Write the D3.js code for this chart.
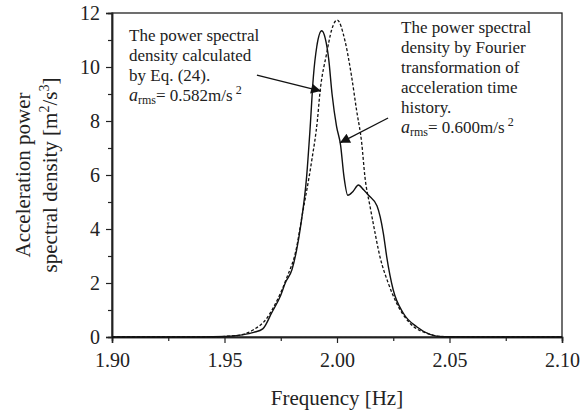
<!DOCTYPE html>
<html>
<head>
<meta charset="utf-8">
<script src="https://cdn.jsdelivr.net/npm/d3@7"></script>
<style>
  body { margin: 0; background: #fff; }
  text { font-family: "Liberation Serif", "Times New Roman", "DejaVu Serif", serif; fill: #222; }
</style>
</head>
<body>
<svg id="chart" width="581" height="415"></svg>
<script>
// 데이터: frequency [Hz] / PSD [m^2/s^3]
const freqCalc = [1.90, 1.93, 1.95, 1.958, 1.963, 1.967, 1.971, 1.975, 1.977, 1.980, 1.982, 1.984, 1.9865, 1.988, 1.9895, 1.991, 1.9932, 1.9948, 1.9963, 1.9978, 1.9998, 2.0016, 2.0031, 2.0048, 2.0072, 2.0095, 2.0118, 2.0139, 2.0178, 2.0206, 2.0221, 2.025, 2.0295, 2.0354, 2.0413, 2.047, 2.06, 2.10];
const psdCalc  = [0, 0, 0.02, 0.08, 0.17, 0.30, 0.9, 1.55, 2.0, 2.5, 3.2, 4.2, 5.94, 7.67, 9.64, 10.75, 11.34, 11.05, 10.3, 9.0, 7.8, 7.1, 5.94, 5.25, 5.4, 5.63, 5.45, 5.26, 4.85, 3.84, 2.97, 1.74, 0.88, 0.38, 0.1, 0.01, 0, 0];

const freqFft = [1.90, 1.94, 1.955, 1.9627, 1.9688, 1.9716, 1.9776, 1.982, 1.9843, 1.9888, 1.9913, 1.9924, 1.9954, 1.9976, 2.0001, 2.0036, 2.0065, 2.0087, 2.011, 2.0124, 2.0147, 2.0161, 2.0191, 2.0228, 2.0265, 2.0324, 2.0399, 2.046, 2.06, 2.10];
const psdFft  = [0, 0, 0.05, 0.26, 0.69, 1.07, 2.18, 3.3, 4.4, 6.55, 8.04, 9.03, 10.5, 11.37, 11.74, 10.95, 9.64, 8.4, 7.17, 5.94, 4.83, 4.21, 2.97, 1.99, 1.25, 0.51, 0.14, 0.02, 0, 0];

const xTicks = [1.90, 1.95, 2.00, 2.05, 2.10];
const yTicks = [0, 2, 4, 6, 8, 10, 12];

const svg = d3.select("#chart");
const margin = {left: 112, top: 13, right: 19, bottom: 78};
const width = 581 - margin.left - margin.right;
const height = 415 - margin.top - margin.bottom;

const xScale = d3.scaleLinear().domain([1.90, 2.10]).range([0, width]);
const yScale = d3.scaleLinear().domain([0, 12]).range([height, 0]);

const g = svg.append("g").attr("transform", `translate(${margin.left},${margin.top})`);

// 프레임
g.append("rect")
    .attr("x", 0).attr("y", 0)
    .attr("width", width).attr("height", height)
    .style("fill", "none")
    .style("stroke", "#222")
    .style("stroke-width", 1.3);

// 축 (minor ticks 먼저)
const xMinor = d3.axisBottom(xScale).tickValues(d3.range(1.925, 2.1, 0.05)).tickSize(4).tickFormat("");
const yMinor = d3.axisLeft(yScale).tickValues(d3.range(1, 12, 2)).tickSize(4).tickFormat("");
g.append("g").attr("transform", `translate(0,${height})`).call(xMinor);
g.append("g").call(yMinor);

const xAxis = d3.axisBottom(xScale).tickValues(xTicks).tickSize(6).tickPadding(10).tickFormat(d3.format(".2f"));
const yAxis = d3.axisLeft(yScale).tickValues(yTicks).tickSize(6).tickPadding(6).tickFormat(d3.format("d"));
g.append("g").attr("class", "x-axis").attr("transform", `translate(0,${height})`).call(xAxis);
g.append("g").attr("class", "y-axis").call(yAxis);

g.selectAll(".domain").style("stroke", "#222").style("stroke-width", 1.5);
g.selectAll(".tick line").style("stroke", "#222").style("stroke-width", 1.2);
g.selectAll(".tick text")
    .style("font-family", "'Liberation Serif', 'Times New Roman', serif")
    .style("font-size", "20px")
    .style("fill", "#222");

// 곡선
const line = d3.line()
    .x(d => xScale(d[0]))
    .y(d => yScale(d[1]))
    .curve(d3.curveMonotoneX);

g.append("path")
    .datum(d3.zip(freqFft, psdFft))
    .attr("d", line)
    .style("fill", "none")
    .style("stroke", "#111")
    .style("stroke-width", 1.3)
    .style("stroke-dasharray", "3,2");

g.append("path")
    .datum(d3.zip(freqCalc, psdCalc))
    .attr("d", line)
    .style("fill", "none")
    .style("stroke", "#111")
    .style("stroke-width", 1.4);

// 축 제목
svg.append("text")
    .attr("x", margin.left + width / 2)
    .attr("y", 405)
    .attr("text-anchor", "middle")
    .style("font-size", "21px")
    .text("Frequency [Hz]");

const yTitle = svg.append("text")
    .attr("transform", `translate(29.5,${margin.top + height / 2}) rotate(-90)`)
    .attr("text-anchor", "middle")
    .style("font-size", "21px");
yTitle.append("tspan").attr("x", 0).attr("y", 0).text("Acceleration power");
const l2 = yTitle.append("tspan").attr("x", 0).attr("y", 27).text("spectral density [m");
l2.append("tspan").attr("dy", -8).style("font-size", "14px").text("2");
l2.append("tspan").attr("dy", 8).text("/s");
l2.append("tspan").attr("dy", -8).style("font-size", "14px").text("3");
l2.append("tspan").attr("dy", 8).text("]");

// 주석 + 화살표
svg.append("defs").append("marker")
    .attr("id", "arrow")
    .attr("viewBox", "0 0 10 10")
    .attr("refX", 10).attr("refY", 5)
    .attr("markerWidth", 14).attr("markerHeight", 10)
    .attr("markerUnits", "userSpaceOnUse")
    .attr("orient", "auto")
    .append("path")
    .attr("d", "M0,0 L10,5 L0,10 z")
    .style("fill", "#111");

function annotate(x, y, lines, rms) {
    const t = svg.append("text")
        .attr("x", x).attr("y", y)
        .style("font-size", "17px");
    lines.forEach((s, i) => {
        t.append("tspan").attr("x", x).attr("y", y + i * 20).text(s);
    });
    const last = t.append("tspan").attr("x", x).attr("y", y + lines.length * 20);
    last.append("tspan").style("font-style", "italic").style("font-size", "18px").text("a");
    last.append("tspan").attr("dy", 3).style("font-size", "12px").text("rms");
    last.append("tspan").attr("dy", -3).text(`= ${rms}m/s`);
    last.append("tspan").attr("dy", -7).attr("dx", 3).style("font-size", "12px").text("2");
}

annotate(129, 41, ["The power spectral", "density calculated", "by Eq. (24)."], "0.582");
annotate(401, 33, ["The power spectral", "density by Fourier", "transformation of", "acceleration time", "history."], "0.600");

// 화살표 위치: 데이터 좌표로 지정
const arrows = [
    {from: [1.9644, 9.70], to: [1.9929, 9.11]},
    {from: [2.0227, 8.11], to: [2.0013, 7.19]}
];
arrows.forEach(a => {
    g.append("line")
        .attr("x1", xScale(a.from[0])).attr("y1", yScale(a.from[1]))
        .attr("x2", xScale(a.to[0])).attr("y2", yScale(a.to[1]))
        .style("stroke", "#111")
        .style("stroke-width", 1.3)
        .attr("marker-end", "url(#arrow)");
});
</script>
</body>
</html>
